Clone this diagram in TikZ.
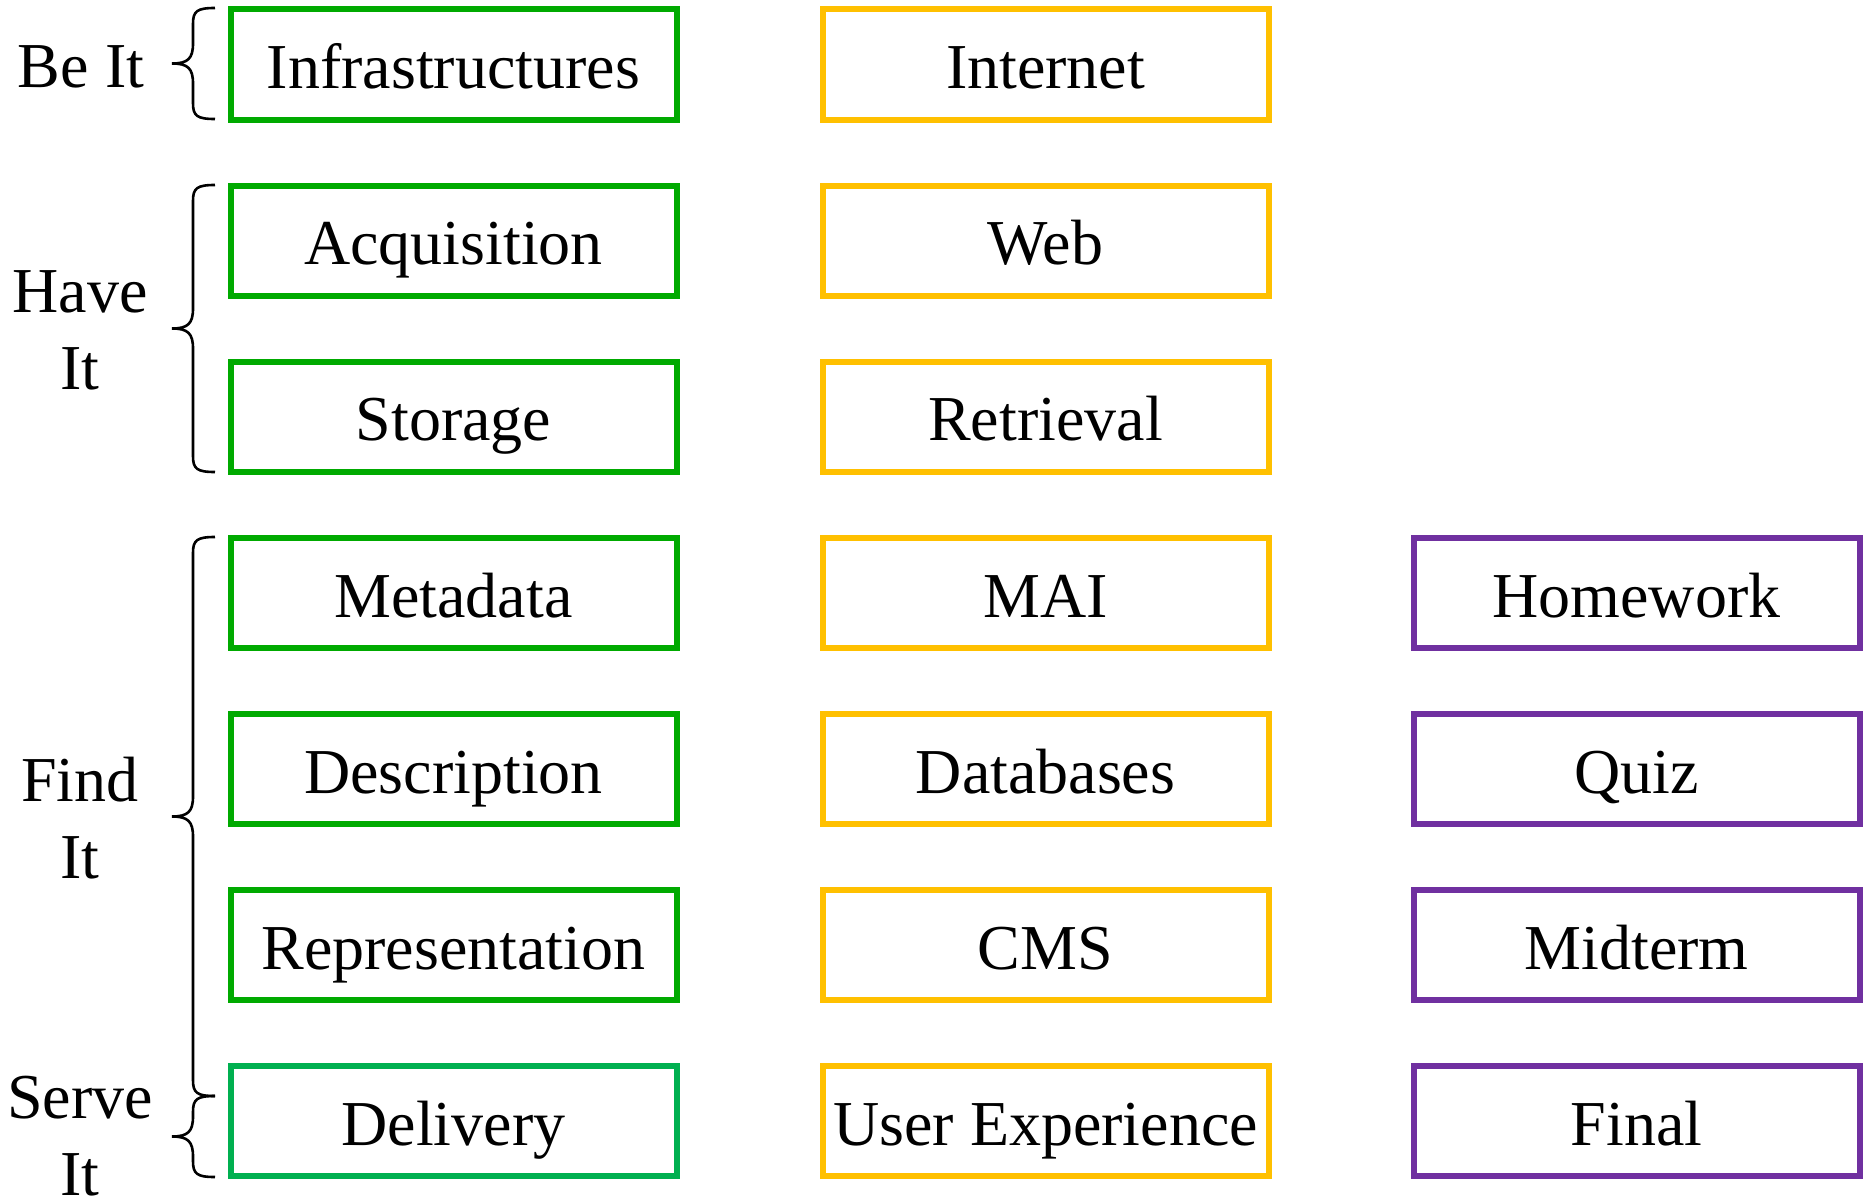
\documentclass[tikz,border=0pt]{standalone}
\usepackage{fontspec}
\setmainfont{Liberation Serif}
\definecolor{boxgreen}{RGB}{0,170,0}
\definecolor{servegreen}{RGB}{0,176,80}
\definecolor{boxgold}{RGB}{255,192,0}
\definecolor{boxpurple}{RGB}{112,48,160}
% left curly brace between two heights, tip pointing left at mid height
\newcommand\leftbrace[2]{%
  \draw[bracestyle] (215,#1) .. controls (197,#1) and (193,#1+3) .. (193,#1+16)
    -- (193,{(#1+#2)/2-20}) .. controls (193,{(#1+#2)/2-5}) and (188,{(#1+#2)/2}) .. (172,{(#1+#2)/2})
    .. controls (188,{(#1+#2)/2}) and (193,{(#1+#2)/2+5}) .. (193,{(#1+#2)/2+20})
    -- (193,#2-16) .. controls (193,#2-3) and (197,#2) .. (215,#2);}
\begin{document}
\begin{tikzpicture}[x=1pt,y=-1pt,
  box/.style={draw, line width=6pt, minimum width=446pt, minimum height=110pt,
    inner sep=0pt, text height=52pt, text depth=4pt, font=\fontsize{64}{77}\selectfont},
  gbox/.style={box, draw=boxgreen},
  sbox/.style={box, draw=servegreen},
  ybox/.style={box, draw=boxgold},
  pbox/.style={box, draw=boxpurple},
  lab/.style={align=center, inner sep=0pt, font=\fontsize{64}{77}\selectfont},
  bracestyle/.style={draw=black, line width=2.6pt}]
\useasboundingbox (0,0) rectangle (1863,1199);

% first column
\node[gbox] (infra) at (453.5,64.5)  {Infrastructures};
\node[gbox] (acq)   at (453.5,240.5) {Acquisition};
\node[gbox] (stor)  at (453.5,416.5) {Storage};
\node[gbox] (meta)  at (453.5,593)   {Metadata};
\node[gbox] (desc)  at (453.5,769)   {Description};
\node[gbox] (repr)  at (453.5,945)   {Representation};
\node[sbox] (deliv) at (453.5,1121)  {Delivery};

% second column
\node[ybox] (inet)  at (1045.5,64.5)  {Internet};
\node[ybox] (web)   at (1045.5,240.5) {Web};
\node[ybox] (retr)  at (1045.5,416.5) {Retrieval};
\node[ybox] (mai)   at (1045.5,593)   {MAI};
\node[ybox] (dbs)   at (1045.5,769)   {Databases};
\node[ybox] (cms)   at (1045.5,945)   {CMS};
\node[ybox] (ux)    at (1045.5,1121)  {User Experience};

% third column
\node[pbox] (hw)    at (1636.5,593)  {Homework};
\node[pbox] (quiz)  at (1636.5,769)  {Quiz};
\node[pbox] (mid)   at (1636.5,945)  {Midterm};
\node[pbox] (final) at (1636.5,1121) {Final};

% group labels
\node[lab] (beit)   at (81,67)   {Be It};
\node[lab] (haveit) at (80,330)  {Have\\It};
\node[lab] (findit) at (80,818)  {Find\\It};
\node[lab] (serve)  at (80,1136) {Serve\\It};

% braces
\leftbrace{8}{119}
\leftbrace{185}{472}
\leftbrace{537}{1096}
\leftbrace{1096}{1177}
\end{tikzpicture}
\end{document}
